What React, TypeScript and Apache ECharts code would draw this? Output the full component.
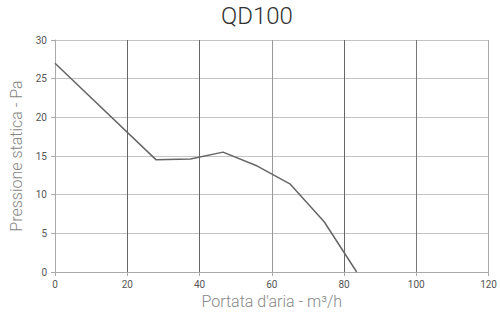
import React, { useEffect, useRef } from "react";
import * as echarts from "echarts";

const titleText = "QD100";
const xName = "Portata d'aria - m³/h";
const yName = "Pressione statica - Pa";
const flowValues = [0, 28, 37.5, 46.5, 56, 65, 74.5, 83.5];
const pressureValues = [27, 14.5, 14.6, 15.5, 13.7, 11.4, 6.5, 0];
const xMin = 0, xMax = 120, xStep = 20;
const yMin = 0, yMax = 30, yStep = 5;

const FONT = "Roboto, Lato, 'Helvetica Neue', Helvetica, Arial, sans-serif";

export default function App() {
  const ref = useRef<HTMLDivElement>(null);
  useEffect(() => {
    if (!ref.current) return;
    const chart = echarts.init(ref.current, undefined, { renderer: "svg" });
    chart.setOption({
      animation: false,
      backgroundColor: "#ffffff",
      title: {
        text: titleText,
        left: 216,
        top: -1,
        textStyle: { fontFamily: FONT, fontWeight: 300, fontSize: 24, color: "#333" },
      },
      grid: { left: 50, right: 10, top: 40, bottom: 46 },
      xAxis: {
        type: "value",
        min: xMin,
        max: xMax,
        interval: xStep,
        name: xName,
        nameLocation: "middle",
        nameGap: 19,
        nameTextStyle: { fontFamily: FONT, fontWeight: 300, fontSize: 16, color: "#888" },
        axisLine: { show: true, lineStyle: { color: "#aaa", width: 1 } },
        axisTick: { show: true, length: 4, lineStyle: { color: "#aaa" } },
        axisLabel: { fontFamily: FONT, fontSize: 10, color: "#555", margin: 7 },
        splitLine: {
          show: true,
          lineStyle: { color: ["#aaa", "#666", "#666", "#999", "#666", "#777", "#aaa"], width: 1 },
        },
      },
      yAxis: {
        type: "value",
        min: yMin,
        max: yMax,
        interval: yStep,
        name: yName,
        nameLocation: "middle",
        nameGap: 31,
        nameTextStyle: { fontFamily: FONT, fontWeight: 300, fontSize: 16, color: "#888" },
        axisLine: { show: true, lineStyle: { color: "#aaa", width: 1 } },
        axisTick: { show: true, length: 4, lineStyle: { color: "#aaa" } },
        axisLabel: { fontFamily: FONT, fontSize: 10, color: "#555", margin: 8 },
        splitLine: { show: true, lineStyle: { color: "#c4c4c4", width: 1 } },
      },
      series: [
        {
          type: "line",
          data: flowValues.map((x, i) => [x, pressureValues[i]]),
          showSymbol: false,
          symbol: "none",
          lineStyle: { color: "#666", width: 1.5 },
          clip: true,
        },
      ],
    });
    return () => chart.dispose();
  }, []);
  return <div ref={ref} style={{ width: 500, height: 318, position: "absolute", left: 0, top: 0 }} />;
}
